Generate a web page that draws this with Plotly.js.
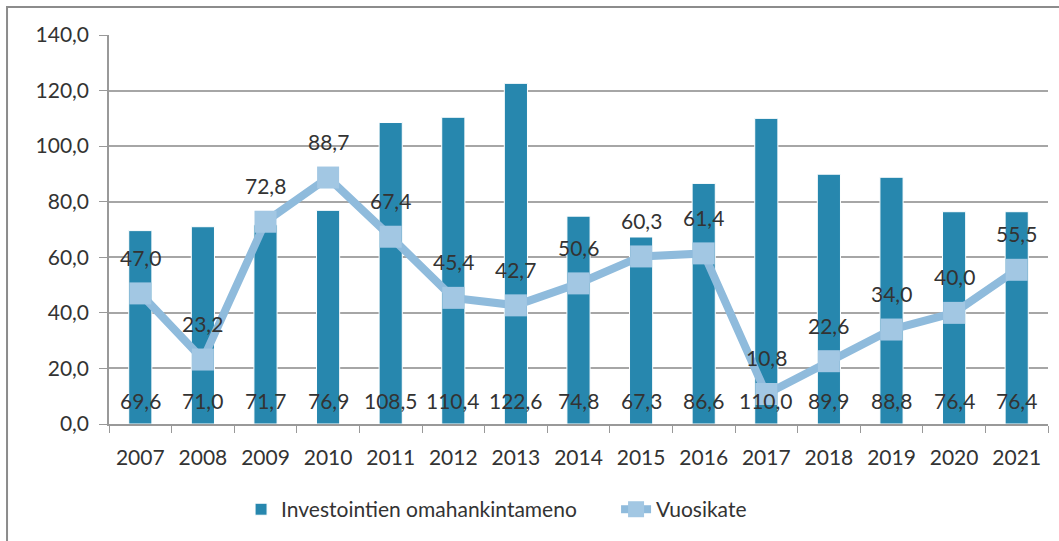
<!DOCTYPE html>
<html>
<head>
<meta charset="utf-8">
<script src="https://cdn.plot.ly/plotly-3.0.1.min.js"></script>
<style>
  html, body { margin: 0; padding: 0; background: #fff; }
  #chart { width: 1059px; height: 541px; }
</style>
</head>
<body>
<div id="chart"></div>
<script>
const years = ["2007", "2008", "2009", "2010", "2011", "2012", "2013", "2014", "2015", "2016", "2017", "2018", "2019", "2020", "2021"];
const investments = [69.6, 71.0, 71.7, 76.9, 108.5, 110.4, 122.6, 74.8, 67.3, 86.6, 110.0, 89.9, 88.8, 76.4, 76.4];
const annualMargin = [47.0, 23.2, 72.8, 88.7, 67.4, 45.4, 42.7, 50.6, 60.3, 61.4, 10.8, 22.6, 34.0, 40.0, 55.5];

const fi = v => v.toFixed(1).replace(".", ",");
const font = "Lato, 'Open Sans', sans-serif";
const textColor = "#333";

const data = [
    {
        type: "bar",
        name: "Investointien omahankintameno",
        x: years,
        y: investments,
        marker: { color: "#2787ae", line: { color: "#ffffff", width: 1 } },
        hoverinfo: "y"
    },
    {
        type: "scatter",
        mode: "lines+markers",
        name: "Vuosikate",
        x: years,
        y: annualMargin,
        line: { color: "#8fbbdc", width: 8 },
        marker: { symbol: "square", size: 22, color: "#a2c7e3" },
        hoverinfo: "y"
    }
];

// annotations on a category axis take the category index
const barLabels = years.map((_, i) => ({
    x: i, y: 0, yshift: 24, text: fi(investments[i]),
    showarrow: false, yanchor: "middle",
    font: { family: font, size: 21, color: textColor }
}));

const lineLabels = years.map((_, i) => ({
    x: i, y: annualMargin[i], yshift: 36, text: fi(annualMargin[i]),
    showarrow: false, yanchor: "middle",
    font: { family: font, size: 21, color: textColor }
}));

const layout = {
    width: 1059,
    height: 541,
    margin: { l: 109, r: 11, t: 35, b: 117 },
    paper_bgcolor: "#fff",
    plot_bgcolor: "#fff",
    separators: ", ",
    font: { family: font, size: 21, color: textColor },
    bargap: 0.63,
    xaxis: {
        type: "category",
        range: [-0.5, years.length - 0.5],
        showgrid: false,
        showline: true,
        linecolor: "#999",
        linewidth: 1.5,
        ticks: "outside",
        tickson: "boundaries",
        ticklen: 7,
        tickcolor: "#999",
        tickangle: 0,
        ticklabelstandoff: 14,
        tickfont: { family: font, size: 21, color: textColor },
        fixedrange: true
    },
    yaxis: {
        range: [0, 140],
        dtick: 20,
        tickformat: ".1f",
        showgrid: true,
        gridcolor: "#a6a6a6",
        gridwidth: 1.5,
        showline: true,
        linecolor: "#999",
        linewidth: 1.5,
        ticks: "outside",
        ticklen: 8,
        tickcolor: "#999",
        ticklabelstandoff: 6,
        zeroline: false,
        tickfont: { family: font, size: 21, color: textColor },
        fixedrange: true
    },
    showlegend: true,
    legend: {
        orientation: "h",
        x: 0.54,
        xanchor: "center",
        y: -0.22,
        yanchor: "middle",
        font: { family: font, size: 21, color: textColor },
        entrywidth: 330,
        traceorder: "normal"
    },
    annotations: [...barLabels, ...lineLabels],
    shapes: [{
        type: "rect",
        xref: "paper", yref: "paper",
        x0: -0.1086, x1: 1.05, y0: -0.4, y1: 1.072,
        line: { color: "#8c8c8c", width: 2 },
        layer: "below"
    }]
};

Plotly.newPlot("chart", data, layout, { displayModeBar: false, responsive: false });
</script>
</body>
</html>
